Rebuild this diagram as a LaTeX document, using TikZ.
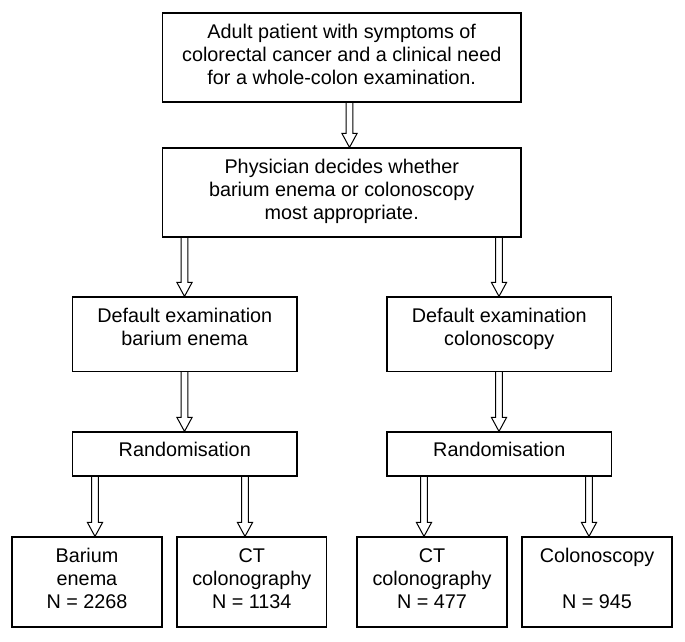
\documentclass[tikz,border=0pt]{standalone}
\usepackage{fontspec}
\setmainfont{Liberation Sans}
\usetikzlibrary{calc}
\tikzset{
  box/.style={draw, line width=1.2pt, inner sep=0pt},
  txt/.style={anchor=north, inner sep=0pt, align=center,
    font=\fontsize{19.8pt}{22.8pt}\selectfont},
  fat/.style={draw, line width=1pt, line join=miter,
    to path={let \p1=(\tikztostart), \p2=(\tikztotarget) in
      ({\x1-3.4pt},\y1) -- ({\x2-3.4pt},{\y2+14pt}) -- ({\x2-7.6pt},{\y2+14pt})
      -- (\p2) -- ({\x2+7.6pt},{\y2+14pt}) -- ({\x2+3.4pt},{\y2+14pt})
      -- ({\x1+3.4pt},\y1)}}
}
\begin{document}
\begin{tikzpicture}[x=1pt,y=-1pt]
\useasboundingbox (0,0) rectangle (685,641);
% boxes
\node[box, minimum width=358.5pt, minimum height=89pt] (b1) at (341.75,57.5) {};
\node[box, minimum width=358.5pt, minimum height=89pt] (b2) at (341.75,192.5) {};
\node[box, minimum width=224.5pt, minimum height=74.5pt] (d1) at (184.75,334.25) {};
\node[box, minimum width=224.5pt, minimum height=74.5pt] (d2) at (499.25,334.25) {};
\node[box, minimum width=224.5pt, minimum height=44pt] (r1) at (184.75,454) {};
\node[box, minimum width=224.5pt, minimum height=44pt] (r2) at (499.25,454) {};
\node[box, minimum width=150pt, minimum height=90pt] (e1) at (87,582) {};
\node[box, minimum width=149.5pt, minimum height=90pt] (e2) at (251.75,582) {};
\node[box, minimum width=150pt, minimum height=90pt] (e3) at (432,582) {};
\node[box, minimum width=150pt, minimum height=90pt] (e4) at (597,582) {};
% texts
\node[txt] (t1) at ([yshift=-12pt]b1.north) {Adult patient with symptoms of\\colorectal cancer and a clinical need\\for a whole-colon examination.};
\node[txt] (t2) at ([yshift=-12pt]b2.north) {Physician decides whether\\barium enema or colonoscopy\\most appropriate.};
\node[txt] (t3) at ([yshift=-12pt]d1.north) {Default examination\\barium enema};
\node[txt] (t4) at ([yshift=-12pt]d2.north) {Default examination\\colonoscopy};
\node[txt] (t5) at ([yshift=-11pt]r1.north) {Randomisation};
\node[txt] (t6) at ([yshift=-11pt]r2.north) {Randomisation};
\node[txt] (t7) at ([yshift=-12pt]e1.north) {Barium\\enema\\N = 2268};
\node[txt] (t8) at ([yshift=-12pt]e2.north) {CT\\colonography\\N = 1134};
\node[txt] (t9) at ([yshift=-12pt]e3.north) {CT\\colonography\\N = 477};
\node[txt] (t10) at ([yshift=-12pt]e4.north) {Colonoscopy\\\mbox{}\\N = 945};
% arrow columns
\coordinate (xa) at (349.5,0);
\coordinate (xl) at (184.5,0);
\coordinate (xr) at (499,0);
\coordinate (x1) at (95,0);
\coordinate (x2) at (245,0);
\coordinate (x3) at (424,0);
\coordinate (x4) at (589,0);
% arrows
\draw[fat] (b1.south -| xa) to (b2.north -| xa);
\draw[fat] (b2.south -| xl) to (d1.north -| xl);
\draw[fat] (b2.south -| xr) to (d2.north -| xr);
\draw[fat] (d1.south -| xl) to (r1.north -| xl);
\draw[fat] (d2.south -| xr) to (r2.north -| xr);
\draw[fat] (r1.south -| x1) to (e1.north -| x1);
\draw[fat] (r1.south -| x2) to (e2.north -| x2);
\draw[fat] (r2.south -| x3) to (e3.north -| x3);
\draw[fat] (r2.south -| x4) to (e4.north -| x4);
\end{tikzpicture}
\end{document}
